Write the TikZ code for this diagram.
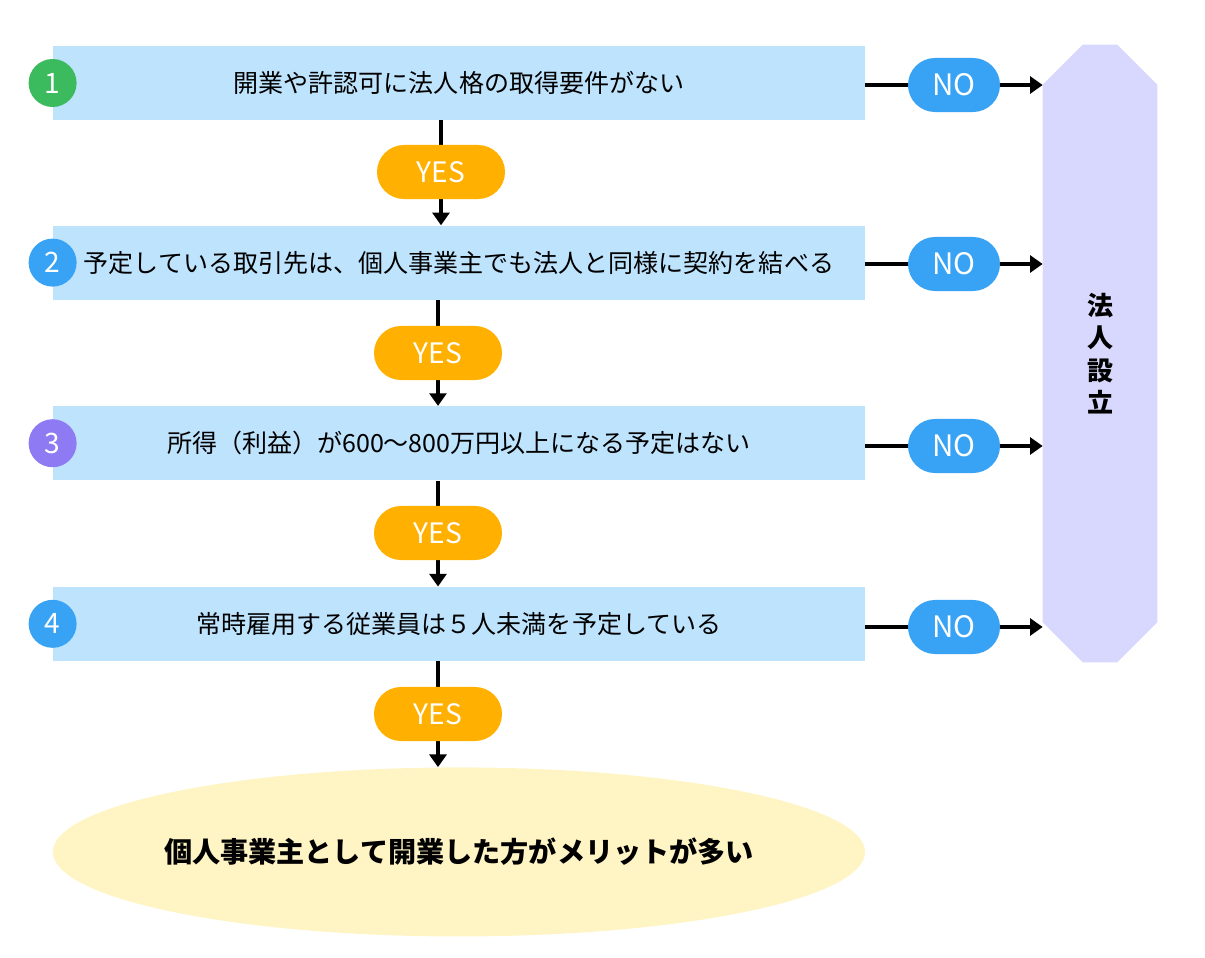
\documentclass[tikz,border=0pt]{standalone}
\usepackage{fontspec}
\setmainfont{Noto Sans CJK JP}
\usetikzlibrary{shapes.geometric, shapes.misc, arrows.meta, positioning, calc, backgrounds}
\definecolor{boxcolor}{RGB}{190, 227, 253}
\definecolor{yescolor}{RGB}{255, 176, 0}
\definecolor{nocolor}{RGB}{56, 163, 245}
\definecolor{greencolor}{RGB}{60, 186, 94}
\definecolor{purplecolor}{RGB}{142, 122, 242}
\definecolor{corpcolor}{RGB}{216, 216, 254}
\definecolor{resultcolor}{RGB}{255, 244, 196}

\begin{document}
\begin{tikzpicture}[
        x=0.025cm, y=-0.025cm,
        question/.style={rectangle, fill=boxcolor, minimum width=20.3cm, minimum height=1.85cm, inner sep=0pt, font=\fontsize{17.8}{20}\selectfont},
        badge/.style={circle, minimum size=1.2cm, inner sep=0pt, text=white, font=\fontsize{20}{22}\selectfont},
        yespill/.style={rounded rectangle, fill=yescolor, text=white, minimum width=3.2cm, minimum height=1.35cm, inner sep=0pt, font=\fontsize{20}{22}\selectfont},
        nopill/.style={rounded rectangle, fill=nocolor, text=white, minimum width=2.3cm, minimum height=1.35cm, inner sep=0pt, font=\fontsize{21}{22}\selectfont},
        result/.style={ellipse, fill=resultcolor, minimum width=20.3cm, minimum height=4.225cm, inner sep=0pt},
        arrow/.style={line width=2.8pt, -{Triangle[length=9pt, width=12pt]}}
    ]
        \useasboundingbox (0,0) rectangle (1205,958);

        % Questions
        \node (q1) [question] at (459,83) {開業や許認可に法人格の取得要件がない};
        \node (q2) [question, below=2.625cm of q1] {予定している取引先は、個人事業主でも法人と同様に契約を結べる};
        \node (q3) [question, below=2.65cm of q2] {所得（利益）が600～800万円以上になる予定はない};
        \node (q4) [question, below=2.65cm of q3] {常時雇用する従業員は５人未満を予定している};

        % Numbers
        \node[badge, fill=greencolor] (n1) at (q1.west) {1};
        \node[badge, fill=nocolor] (n2) at (q2.west) {2};
        \node[badge, fill=purplecolor] (n3) at (q3.west) {3};
        \node[badge, fill=nocolor] (n4) at (q4.west) {4};

        % Result
        \node (res) [result, below=2.65cm of q4] {};
        \node (restext) [font=\bfseries\fontsize{20}{24}\selectfont] at (res) {個人事業主として開業した方がメリットが多い};

        % Corporation
        \node (corp) [rectangle, minimum width=2.85cm, minimum height=15.425cm, inner sep=0pt, align=center, font=\bfseries\fontsize{18.5}{23}\selectfont] at (1100,353.5) {法\\人\\設\\立};

        % Answers
        \node[yespill] (yes1) at (441,172) {YES};
        \node[yespill] (yes2) at (438,353) {YES};
        \node[yespill] (yes3) at (438,533) {YES};
        \node[yespill] (yes4) at (438,714) {YES};
        \node[nopill] (no1) at (954,85) {NO};
        \node[nopill] (no2) at (954,264) {NO};
        \node[nopill] (no3) at (954,446) {NO};
        \node[nopill] (no4) at (954,627) {NO};

        \begin{scope}[on background layer]
            \fill[corpcolor] ([yshift=-1cm]corp.north west) -- ([xshift=1cm]corp.north west) -- ([xshift=-1cm]corp.north east) -- ([yshift=-1cm]corp.north east)
                -- ([yshift=1cm]corp.south east) -- ([xshift=-1cm]corp.south east) -- ([xshift=1cm]corp.south west) -- ([yshift=1cm]corp.south west) -- cycle;

            % YES arrows
            \draw[arrow] (q1.south -| yes1) -- (q2.north -| yes1);
            \draw[arrow] (q2.south -| yes2) -- (q3.north -| yes2);
            \draw[arrow] (q3.south -| yes3) -- (q4.north -| yes3);
            \draw[arrow] (q4.south -| yes4) -- (res.north -| yes4);

            % NO arrows
            \draw[arrow] (no1 -| q1.east) -- (no1 -| corp.west);
            \draw[arrow] (no2 -| q2.east) -- (no2 -| corp.west);
            \draw[arrow] (no3 -| q3.east) -- (no3 -| corp.west);
            \draw[arrow] (no4 -| q4.east) -- (no4 -| corp.west);
        \end{scope}
    \end{tikzpicture}
\end{document}
